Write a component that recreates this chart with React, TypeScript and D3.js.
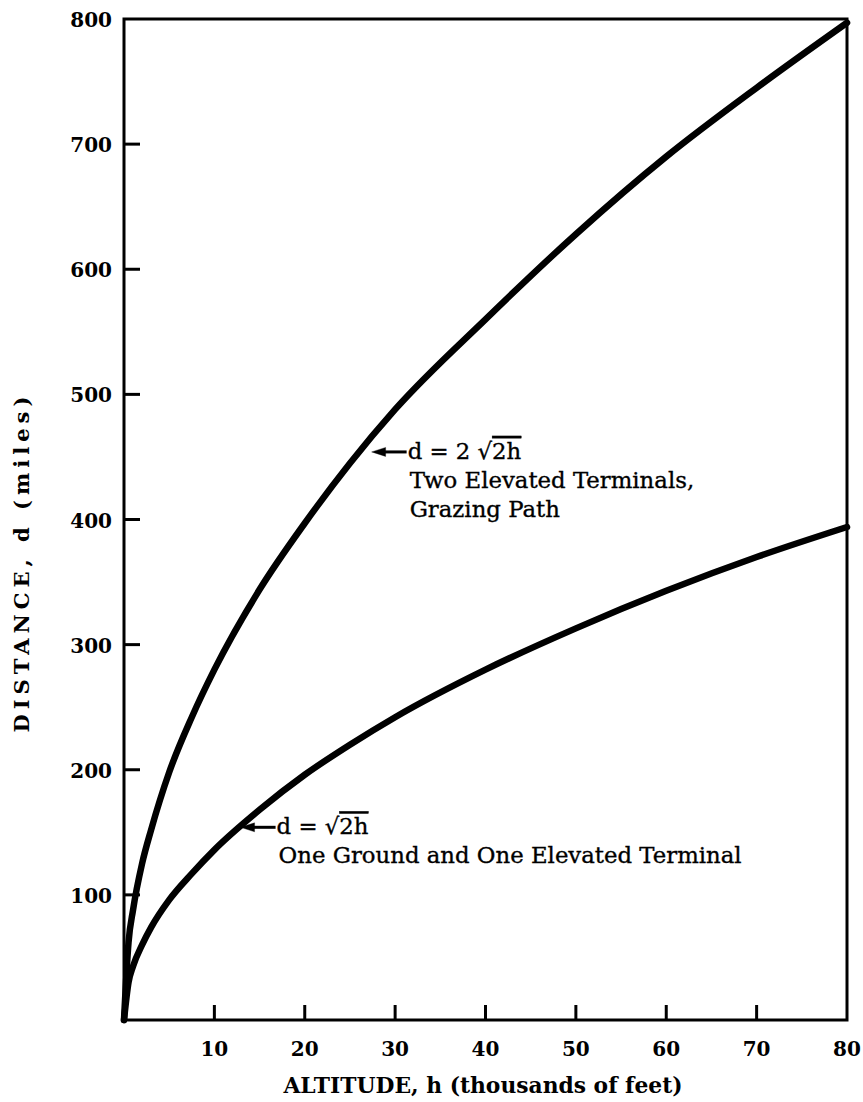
import React from "react";
import * as d3 from "d3";

const xTicks = [10, 20, 30, 40, 50, 60, 70, 80];
const yTicks = [100, 200, 300, 400, 500, 600, 700, 800];

const altitude = [0, 0.5, 1, 2, 3, 5, 7.5, 10, 15, 20, 25, 30, 40, 50, 60, 70, 80];
const twoTerminals = [0, 62, 88, 125, 152, 198, 242, 280, 344, 397, 445, 488, 560, 628, 690, 745, 797];
const oneTerminal = [0, 30, 43, 60, 74, 96, 117, 136, 168, 196, 220, 242, 280, 313, 343, 370, 394];

const xLabel = "ALTITUDE, h (thousands of feet)";
const yLabel = "DISTANCE, d (miles)";

const upperNote = { h: 27.4, d: 454, lines: ["Two Elevated Terminals,", "Grazing Path"] };
const lowerNote = { h: 12.9, d: 154, lines: ["One Ground and One Elevated Terminal"] };

const W = 863;
const H = 1102;
const FONT = "'DejaVu Serif', serif";

export default function App() {
  const x = d3.scaleLinear().domain([0, 80]).range([124, 847]);
  const y = d3.scaleLinear().domain([0, 800]).range([1020, 19]);

  const line = d3
    .line<[number, number]>()
    .x((p) => x(p[0]))
    .y((p) => y(p[1]))
    .curve(d3.curveMonotoneX);

  const upperPts = altitude.map((h, i) => [h, twoTerminals[i]] as [number, number]);
  const lowerPts = altitude.map((h, i) => [h, oneTerminal[i]] as [number, number]);

  const note = (
    n: { h: number; d: number; lines: string[] },
    coef: string,
    key: string
  ) => {
    const tx = x(n.h);
    const ty = y(n.d);
    const textX = tx + 36;
    return (
      <g key={key} fontFamily={FONT} fontSize={22.8} fill="#000" stroke="#000" strokeWidth={0.35}>
        <line x1={tx + 8} y1={ty} x2={tx + 35} y2={ty} stroke="#000" strokeWidth={3} />
        <path d={`M${tx},${ty} L${tx + 14},${ty - 4.5} L${tx + 14},${ty + 4.5} Z`} fill="#000" />
        <text x={textX} y={ty + 7}>
          d = {coef}
          <tspan>√</tspan>
          <tspan style={{ textDecoration: "overline" }}>2h</tspan>
        </text>
        {n.lines.map((l, i) => (
          <text key={i} x={textX + 2} y={ty + 7 + 29 * (i + 1)}>
            {l}
          </text>
        ))}
      </g>
    );
  };

  return (
    <svg
      width={W}
      height={H}
      style={{ position: "absolute", left: 0, top: 0, background: "#fff" }}
    >
      <rect x={0} y={0} width={W} height={H} fill="#fff" />
      {/* frame */}
      <rect
        x={x(0)}
        y={y(800)}
        width={x(80) - x(0)}
        height={y(0) - y(800)}
        fill="none"
        stroke="#000"
        strokeWidth={3}
      />
      {/* ticks */}
      {xTicks.map((t) => (
        <g key={"xt" + t}>
          {t < 80 && (
            <line x1={x(t)} x2={x(t)} y1={y(0)} y2={y(0) - 15} stroke="#000" strokeWidth={3} />
          )}
          <text
            x={x(t)}
            y={y(0) + 36}
            textAnchor="middle"
            fontFamily={FONT}
            fontWeight="bold"
            fontSize={20}
          >
            {t}
          </text>
        </g>
      ))}
      {yTicks.map((t) => (
        <g key={"yt" + t}>
          {t < 800 && (
            <line x1={x(0)} x2={x(0) + 16} y1={y(t)} y2={y(t)} stroke="#000" strokeWidth={3} />
          )}
          <text
            x={x(0) - 12}
            y={y(t) + 8}
            textAnchor="end"
            fontFamily={FONT}
            fontWeight="bold"
            fontSize={20}
          >
            {t}
          </text>
        </g>
      ))}
      {/* curves */}
      <path d={line(upperPts) || ""} fill="none" stroke="#000" strokeWidth={6.5} strokeLinecap="round" />
      <path d={line(lowerPts) || ""} fill="none" stroke="#000" strokeWidth={6.5} strokeLinecap="round" />
      {note(upperNote, "2 ", "u")}
      {note(lowerNote, "", "l")}
      {/* axis titles */}
      <text
        x={483}
        y={1093}
        textAnchor="middle"
        fontFamily={FONT}
        fontWeight="bold"
        fontSize={21.8}
      >
        {xLabel}
      </text>
      <text
        transform={`translate(29, ${y(366)}) rotate(-90)`}
        textAnchor="middle"
        fontFamily={FONT}
        fontWeight="bold"
        fontSize={21}
        letterSpacing={5}
      >
        {yLabel}
      </text>
    </svg>
  );
}
